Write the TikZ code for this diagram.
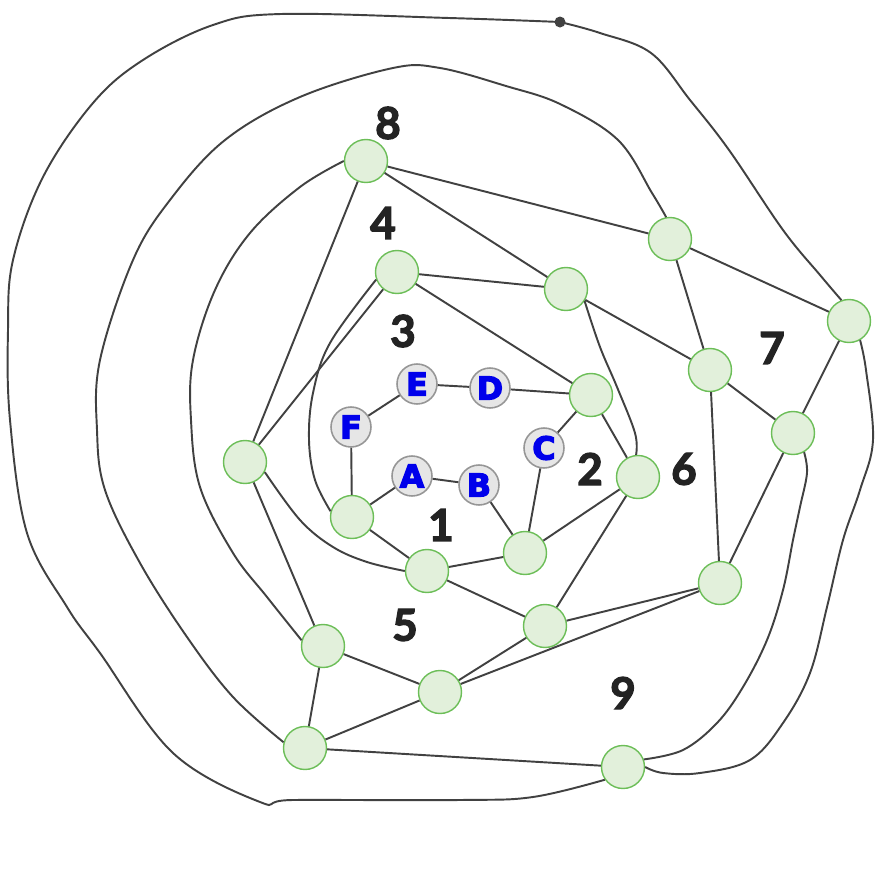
\documentclass[tikz,border=0pt]{standalone}
\usepackage{fontspec}
\setsansfont{Lato}[BoldFeatures={FakeBold=3}]
\newfontfamily\letterfont{DejaVu Sans}[BoldFeatures={FakeBold=4}]

\definecolor{linegray}{RGB}{65,65,65}
\definecolor{rimgreen}{RGB}{108,190,88}
\definecolor{fillgreen}{RGB}{226,240,219}
\definecolor{rimgray}{RGB}{150,150,150}
\definecolor{fillgray}{RGB}{230,230,230}
\definecolor{letterblue}{RGB}{0,0,235}
\definecolor{labelgray}{RGB}{35,35,35}

\begin{document}
\begin{tikzpicture}[x=0.2mm, y=-0.2mm,
    vertex/.style={circle, draw=rimgreen, fill=fillgreen, line width=0.8pt, minimum size=8.6mm, inner sep=0pt},
    letter/.style={circle, draw=rimgray, fill=fillgray, line width=0.9pt, minimum size=8mm, inner sep=0pt,
        text=letterblue, font=\letterfont\bfseries\fontsize{18}{18}\selectfont},
    region/.style={text=labelgray, font=\sffamily\bfseries\fontsize{25}{25}\selectfont},
    edge/.style={draw=linegray, line width=1.1pt}]

    \useasboundingbox (0,0) rectangle (878,877);

    % Define the green vertices
    \node[vertex] (a8) at (366,161) {};
    \node[vertex] (a4) at (397,272) {};
    \node[vertex] (t1) at (670,239) {};
    \node[vertex] (t2) at (566,289) {};
    \node[vertex] (r1) at (849,321) {};
    \node[vertex] (d2) at (591,395) {};
    \node[vertex] (m7) at (710,370) {};
    \node[vertex] (r2) at (793,433) {};
    \node[vertex] (m6) at (638,477) {};
    \node[vertex] (l1) at (245,462) {};
    \node[vertex] (l2) at (352,517) {};
    \node[vertex] (c1) at (427,571) {};
    \node[vertex] (b1) at (525,553) {};
    \node[vertex] (c5) at (545,626) {};
    \node[vertex] (m9) at (720,583) {};
    \node[vertex] (l5) at (323,646) {};
    \node[vertex] (b5) at (440,692) {};
    \node[vertex] (bl) at (305,748) {};
    \node[vertex] (b9) at (623,767) {};

    % Define the grey lettered vertices
    \node[letter] (E) at (417,384) {E};
    \node[letter] (D) at (490,388) {D};
    \node[letter] (F) at (351,427) {F};
    \node[letter] (A) at (412,476) {A};
    \node[letter] (B) at (479,485) {B};
    \node[letter] (C) at (544,448) {C};

    % The dot on the outer curve
    \fill[linegray] (560,22) circle (5.5);
    \coordinate (dot) at (560,22);

    % Draw the straight edges
    \draw[edge] (a8) -- (t1);
    \draw[edge] (a8) -- (t2);
    \draw[edge] (a8) -- (l1);
    \draw[edge] (a4) -- (t2);
    \draw[edge] (a4) -- (d2);
    \draw[edge] (a4) -- (l1);
    \draw[edge] (t1) -- (r1);
    \draw[edge] (t1) -- (m7);
    \draw[edge] (t2) -- (m7);
    \draw[edge] (d2) -- (m6);
    \draw[edge] (d2) -- (D);
    \draw[edge] (d2) -- (C);
    \draw[edge] (m7) -- (r2);
    \draw[edge] (m7) -- (m9);
    \draw[edge] (r1) -- (r2);
    \draw[edge] (r2) -- (m9);
    \draw[edge] (m6) -- (b1);
    \draw[edge] (m6) -- (c5);
    \draw[edge] (l1) -- (l5);
    \draw[edge] (l2) -- (F);
    \draw[edge] (l2) -- (A);
    \draw[edge] (l2) -- (c1);
    \draw[edge] (c1) -- (b1);
    \draw[edge] (c1) -- (c5);
    \draw[edge] (b1) -- (B);
    \draw[edge] (b1) -- (C);
    \draw[edge] (c5) -- (m9);
    \draw[edge] (c5) -- (b5);
    \draw[edge] (m9) -- (b5);
    \draw[edge] (l5) -- (b5);
    \draw[edge] (l5) -- (bl);
    \draw[edge] (b5) -- (bl);
    \draw[edge] (bl) -- (b9);
    \draw[edge] (E) -- (D);
    \draw[edge] (E) -- (F);
    \draw[edge] (A) -- (B);

    % Draw the curved edges
    \draw[edge] plot[smooth, tension=0.6] coordinates {(t2.327) (600,347) (617,387) (635,433) (m6.95)};
    \draw[edge] plot[smooth, tension=0.6] coordinates {(l1.333) (300,520) (333,547) (367,562) (c1.west)};
    \draw[edge] plot[smooth, tension=0.6] coordinates {(a4.200) (330,343) (313,393) (309,440) (315,480) (l2.165)};
    \draw[edge] plot[smooth, tension=0.6] coordinates {(a8.west) (300,187) (250,233) (215,290) (193,360) (191,420) (200,487) (233,553) (267,597) (l5.165)};
    \draw[edge] plot[smooth, tension=0.6] coordinates {(t1.100) (652,193) (618,140) (560,104) (506,86) (440,68) (393,68) (300,97) (225,140) (170,200) (133,260) (100,360) (97,430) (105,490) (140,563) (187,637) (233,697) (bl.165)};
    \draw[edge] plot[smooth, tension=0.6] coordinates {(r2.300) (807,473) (800,507) (793,540) (783,590) (767,640) (743,687) (717,723) (683,750) (b9.20)};
    \draw[edge] plot[smooth, tension=0.6] coordinates {(r1.300) (866,370) (873,440) (860,490) (843,540) (827,607) (810,673) (783,723) (750,760) (700,773) (663,773) (b9.east)};
    \draw[edge] plot[smooth, tension=0.6] coordinates {(dot) (600,33) (651,53) (690,100) (729,150) (783,230) (820,275) (r1.110)};
    \draw[edge] plot[smooth, tension=0.6] coordinates {(b9.215) (533,797) (460,800) (293,800) (260,802) (173,753) (100,653) (67,607) (27,533) (10,420) (8,330) (13,260) (43,177) (93,103) (143,60) (213,25) (281,14) (449,18) (dot)};

    % Add the region numbers
    \node[region] at (388,123) {8};
    \node[region] at (383,223) {4};
    \node[region] at (403,331) {3};
    \node[region] at (772,348) {7};
    \node[region] at (590,469) {2};
    \node[region] at (684,469) {6};
    \node[region] at (441,525) {1};
    \node[region] at (405,625) {5};
    \node[region] at (623,693) {9};

\end{tikzpicture}
\end{document}
